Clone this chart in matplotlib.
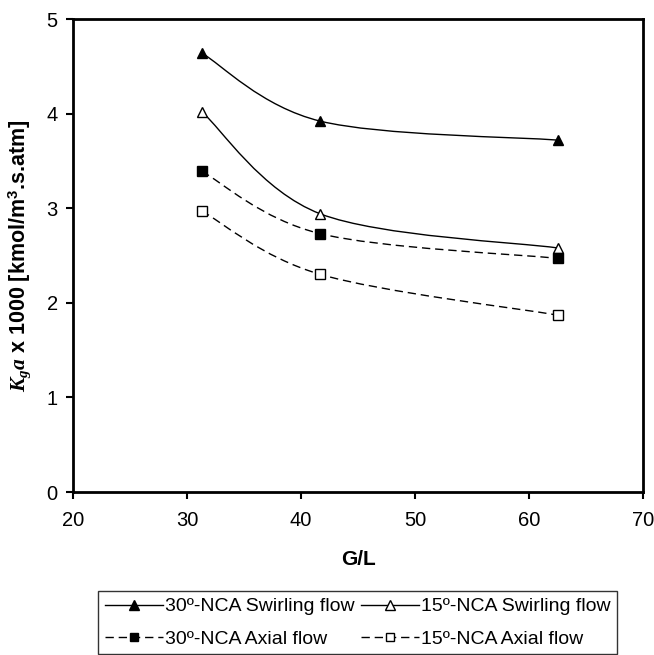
import numpy as np
import matplotlib
matplotlib.use("Agg")
import matplotlib.pyplot as plt
from matplotlib.path import Path
from matplotlib.patches import PathPatch
from matplotlib.lines import Line2D

plt.rcParams['font.family'] = 'Liberation Sans'
plt.rcParams['mathtext.fontset'] = 'custom'
plt.rcParams['mathtext.it'] = 'Liberation Serif:italic:bold'
plt.rcParams['mathtext.rm'] = 'Liberation Sans:bold'
plt.rcParams['mathtext.bf'] = 'Liberation Sans:bold'

# G/L values
gl = [31.3, 41.7, 62.5]
# Kga x 1000
swirl_30 = [4.64, 3.92, 3.72]
swirl_15 = [4.02, 2.94, 2.58]
axial_30 = [3.39, 2.73, 2.47]
axial_15 = [2.97, 2.30, 1.87]

labels = ['30º-NCA Swirling flow', '15º-NCA Swirling flow',
          '30º-NCA Axial flow', '15º-NCA Axial flow']


def smooth_path(x, y):
    # excel-style smoothed line: catmull-rom segments as cubic beziers
    p = np.column_stack([x, y]).astype(float)
    n = len(p)
    verts = [p[0]]
    codes = [Path.MOVETO]
    for i in range(n - 1):
        p0 = p[i - 1] if i > 0 else p[i]
        p3 = p[i + 2] if i + 2 < n else p[i + 1]
        c1 = p[i] + (p[i + 1] - p0) / 6.0
        c2 = p[i + 1] - (p3 - p[i]) / 6.0
        verts += [c1, c2, p[i + 1]]
        codes += [Path.CURVE4] * 3
    return Path(verts, codes)


fig = plt.figure(figsize=(6.54, 6.55), dpi=100)
ax = fig.add_axes([73 / 654, 1 - 492 / 655, 570 / 654, 473 / 655])

series = [
    (swirl_30, '-', '^', 'black'),
    (swirl_15, '-', '^', 'white'),
    (axial_30, (0, (6, 3.5)), 's', 'black'),
    (axial_15, (0, (6, 3.5)), 's', 'white'),
]

handles = []
for (ys, ls, mk, fc), lab in zip(series, labels):
    patch = PathPatch(smooth_path(gl, ys), facecolor='none', edgecolor='black',
                      lw=1.0, linestyle=ls)
    ax.add_patch(patch)
    ms = 7 if mk == '^' else 6.5
    ax.plot(gl, ys, linestyle='none', marker=mk, ms=ms, mfc=fc, mec='black',
            mew=1.0, zorder=3)
    handles.append(Line2D([], [], color='black', lw=1.0, linestyle=ls, marker=mk,
                          ms=ms - 0.5, mfc=fc, mec='black', mew=1.0))

ax.set_xlim(20, 70)
ax.set_ylim(0, 5)
ax.set_xticks([20, 30, 40, 50, 60, 70])
ax.set_yticks([0, 1, 2, 3, 4, 5])
for s in ax.spines.values():
    s.set_linewidth(2.0)
ax.tick_params(direction='out', length=5, width=1.5, labelsize=14.5)
ax.tick_params(axis='x', pad=9)
ax.tick_params(axis='y', pad=6)

ax.set_xlabel('G/L', fontsize=15, fontweight='bold', labelpad=14)
ax.set_ylabel(r'$K_ga$ x 1000 [kmol/m$^{3}$.s.atm]', fontsize=15.5,
              fontweight='bold', labelpad=10)

# legend fills row by row in the reference
order = [0, 2, 1, 3]
leg = fig.legend(handles=[handles[i] for i in order],
                 labels=[labels[i] for i in order], ncol=2, loc='upper left',
                 bbox_to_anchor=(98 / 654, 1 - 591 / 655), borderaxespad=0,
                 fontsize=14, frameon=True, fancybox=False, edgecolor='black',
                 handlelength=3.0, handletextpad=0.1, columnspacing=0.3,
                 labelspacing=0.75, borderpad=0.35)
leg.get_frame().set_linewidth(1.0)

fig.savefig('out.png', dpi=100)
